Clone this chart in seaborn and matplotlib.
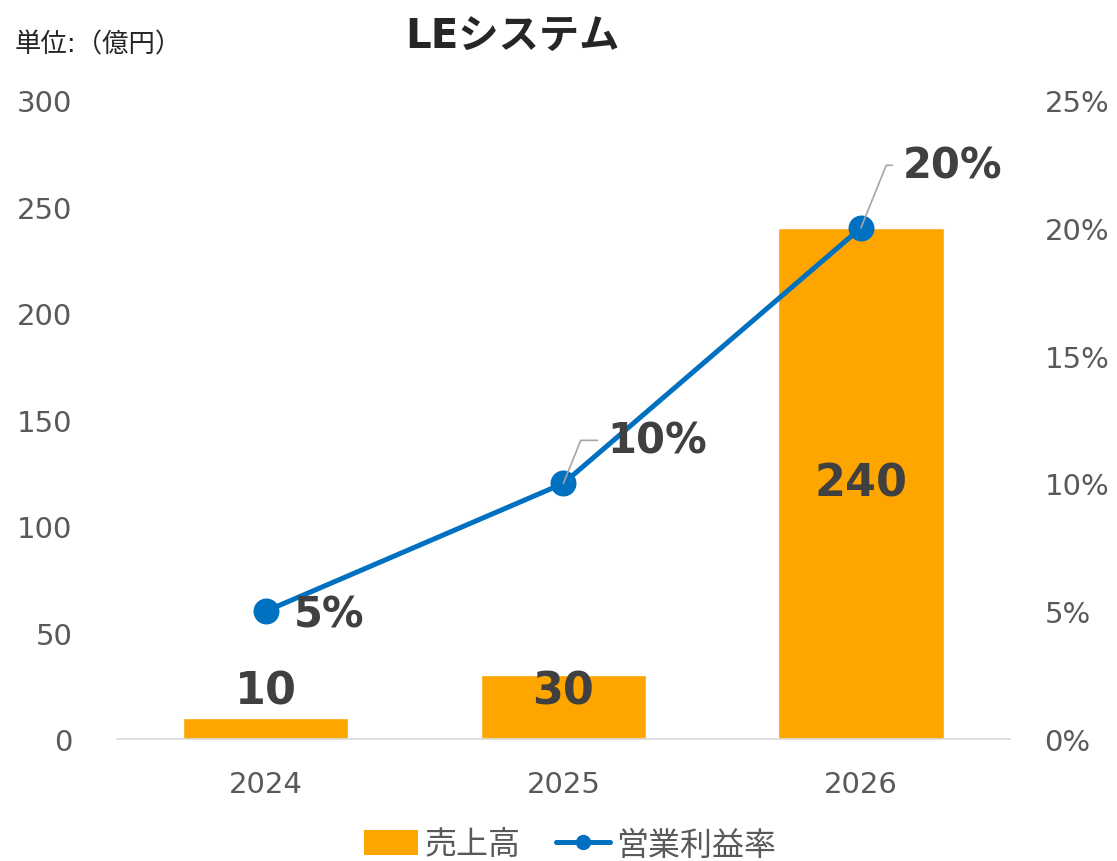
import matplotlib
matplotlib.use("Agg")
import matplotlib.pyplot as plt
import seaborn as sns
from matplotlib.patches import Patch
from matplotlib.lines import Line2D
from matplotlib.ticker import FuncFormatter

# data
years = ["2024", "2025", "2026"]
sales = [10, 30, 240]          # 売上高 (億円)
margins = [5, 10, 20]          # 営業利益率 (%)
sales_ticks = [0, 50, 100, 150, 200, 250, 300]
margin_ticks = [0, 5, 10, 15, 20, 25]

BAR = "#FFA500"
LINE = "#0070C0"
TICK = "#595959"
LABEL = "#404040"

sns.set_style("white")
plt.rcParams["font.family"] = ["DejaVu Sans", "Noto Sans CJK JP"]

fig = plt.figure(figsize=(11.17, 8.62), dpi=100)
ax = fig.add_axes([0.1047, 0.1415, 0.7993, 0.7413])

sns.barplot(x=years, y=sales, ax=ax, color=BAR, width=0.556, saturation=1)
ax.set_ylim(0, 300)
ax.set_yticks(sales_ticks)
ax.set_xlim(-0.5, 2.5)

# bar value labels
for i, v in enumerate(sales):
    ax.text(i, max(v / 2, 22.5), str(v), ha="center", va="center",
            fontsize=32, fontweight="bold", color=LABEL)

# margin line on secondary axis
ax2 = ax.twinx()
sns.pointplot(x=years, y=margins, ax=ax2, color=LINE, markers="o",
              errorbar=None, markersize=16, linewidth=3.6)
ax2.set_ylim(0, 25)
ax2.set_yticks(margin_ticks)
ax2.yaxis.set_major_formatter(FuncFormatter(lambda v, p: f"{v:.0f}%"))
ax2.set_xlim(-0.5, 2.5)

# margin labels (first plain, others with leader lines)
offsets = [(20, -2), (32, 31), (30, 45)]
for i, (m, off) in enumerate(zip(margins, offsets)):
    kw = {}
    if i > 0:
        kw["arrowprops"] = dict(arrowstyle="-", color="#A6A6A6", lw=1.2,
                                shrinkA=5, shrinkB=0, relpos=(0, 0.5),
                                connectionstyle="angle,angleA=0,angleB=68,rad=0")
    ax2.annotate(f"{m}%", xy=(i, m), xytext=off, textcoords="offset points",
                 ha="left", va="center", fontsize=30, fontweight="bold",
                 color=LABEL, **kw)

for a in (ax, ax2):
    for s in a.spines.values():
        s.set_visible(False)
    a.set_xlabel("")
    a.set_ylabel("")
ax.spines["bottom"].set_visible(True)
ax.spines["bottom"].set_color("#D9D9D9")
ax.spines["bottom"].set_linewidth(1.2)

ax.tick_params(axis="y", length=0, pad=32, labelsize=21, labelcolor=TICK)
ax.tick_params(axis="x", length=0, pad=22, labelsize=21, labelcolor=TICK)
ax2.tick_params(axis="y", length=0, pad=25, labelsize=21, labelcolor=TICK)
ax2.tick_params(axis="x", length=0)

fig.text(512 / 1117, 1 - 37 / 862, "LEシステム", ha="center", va="center",
         fontsize=29, fontweight="bold", color="#262626")
fig.text(15 / 1117, 1 - 45 / 862, "単位:（億円）", ha="left", va="center",
         fontsize=19, color="#262626")

handles = [Patch(facecolor=BAR, edgecolor="none"),
           Line2D([0], [0], color=LINE, lw=3.6, marker="o", markersize=10)]
fig.legend(handles, ["売上高", "営業利益率"], loc="center",
           bbox_to_anchor=(570 / 1117, 1 - 846 / 862), ncol=2, frameon=False,
           fontsize=23, handlelength=1.7, handleheight=0.8, handletextpad=0.2,
           columnspacing=1.1, labelcolor=TICK)

fig.savefig("out.png", dpi=100)
